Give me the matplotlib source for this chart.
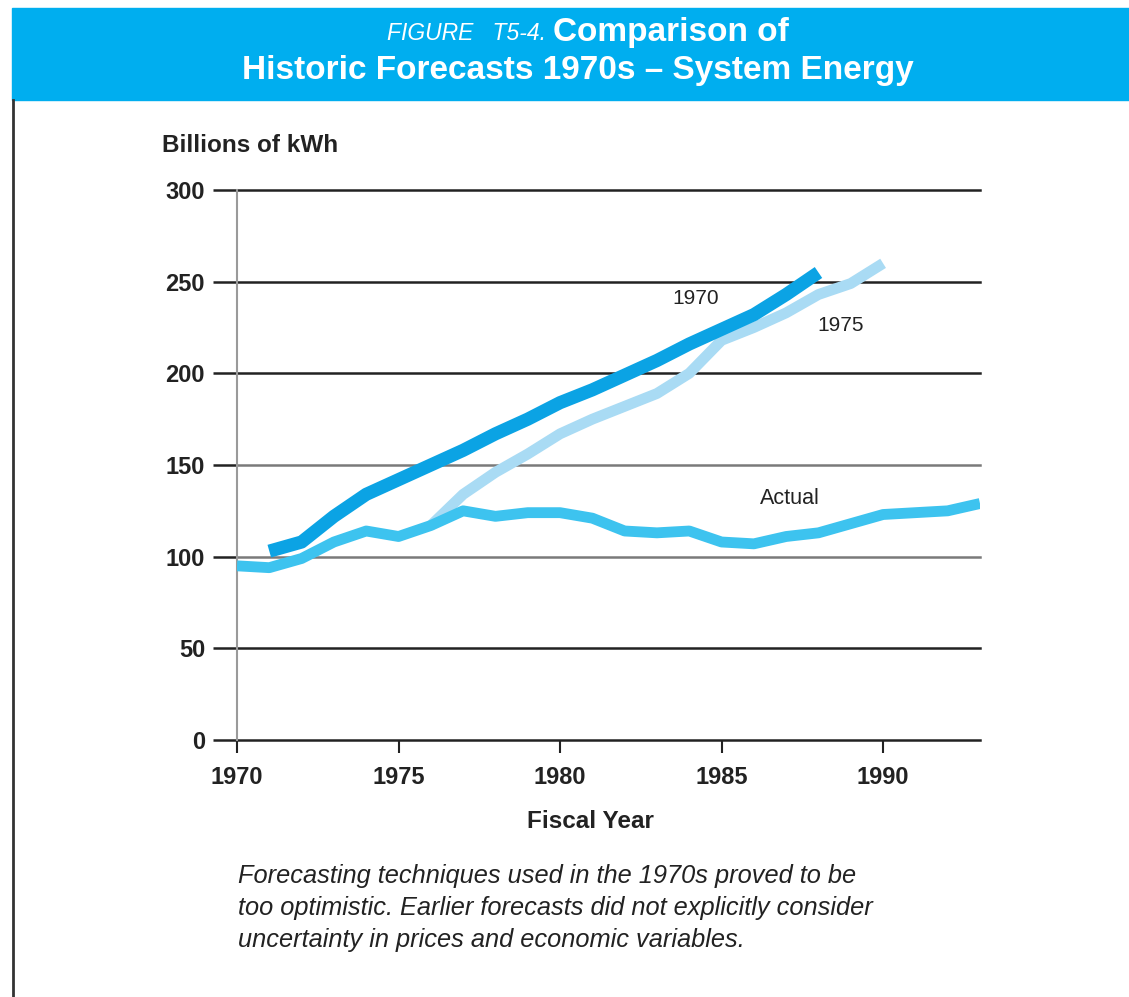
import matplotlib
matplotlib.use("Agg")
import matplotlib.pyplot as plt
from matplotlib.patches import Rectangle
from matplotlib.lines import Line2D

plt.rcParams['font.family'] = ['Liberation Sans', 'DejaVu Sans']

# ---- data (billions of kWh) ----
actual_years = [1970, 1971, 1972, 1973, 1974, 1975, 1976, 1977, 1978, 1979,
                1980, 1981, 1982, 1983, 1984, 1985, 1986, 1987, 1988, 1989,
                1990, 1991, 1992, 1993]
actual_vals = [95, 94, 99, 108, 114, 111, 117, 125, 122, 124,
               124, 121, 114, 113, 114, 108, 107, 111, 113, 118,
               123, 124, 125, 129]

fc1970_years = [1971, 1972, 1973, 1974, 1975, 1976, 1977, 1978, 1979, 1980,
                1981, 1982, 1983, 1984, 1985, 1986, 1987, 1988]
fc1970_vals = [103, 108, 122, 134, 142, 150, 158, 167, 175, 184,
               191, 199, 207, 216, 224, 232, 243, 255]

fc1975_years = [1976, 1977, 1978, 1979, 1980, 1981, 1982, 1983, 1984, 1985,
                1986, 1987, 1988, 1989, 1990]
fc1975_vals = [117, 134, 146, 156, 167, 175, 182, 189, 200, 218,
               225, 233, 243, 249, 260]

x_ticks = [1970, 1975, 1980, 1985, 1990]
y_ticks = [0, 50, 100, 150, 200, 250, 300]

HEADER_BLUE = '#00AEEF'
DARK_BLUE = '#0BA3E4'
MID_BLUE = '#3DC3EF'
LIGHT_BLUE = '#A9DBF4'
INK = '#222222'

W, H = 1129, 997
fig = plt.figure(figsize=(W / 100, H / 100), dpi=100)


def fx(px):
    return px / W


def fy(py):
    return 1 - py / H


# header band and left rule
fig.patches.append(Rectangle((fx(12), fy(100)), fx(W - 12), fy(8) - fy(100),
                             transform=fig.transFigure, color=HEADER_BLUE, zorder=0))
fig.lines.append(Line2D([fx(13), fx(13)], [0, fy(100)], transform=fig.transFigure,
                        color='#333333', lw=2))

fig.text(fx(546), fy(34), 'FIGURE   T5-4.', color='white', fontsize=16.5,
         style='italic', ha='right', va='center')
fig.text(fx(553), fy(33), 'Comparison of', color='white', fontsize=24,
         fontweight='bold', ha='left', va='center')
fig.text(fx(578), fy(70), 'Historic Forecasts 1970s \u2013 System Energy', color='white',
         fontsize=24, fontweight='bold', ha='center', va='center')

# plot area
ax = fig.add_axes([fx(237), fy(740), fx(980) - fx(237), fy(190) - fy(740)])
ax.set_xlim(1970, 1993)
ax.set_ylim(0, 300)

for v in y_ticks:
    c = '#7a7a7a' if v in (100, 150) else INK
    ax.axhline(v, color=c, lw=1.8, zorder=1, clip_on=False)

ax.plot(fc1975_years, fc1975_vals, color=LIGHT_BLUE, lw=7.8,
        solid_capstyle='butt', solid_joinstyle='round', zorder=2)
ax.plot(actual_years, actual_vals, color=MID_BLUE, lw=7.8,
        solid_capstyle='butt', solid_joinstyle='round', zorder=3)
ax.plot(fc1970_years, fc1970_vals, color=DARK_BLUE, lw=9.5,
        solid_capstyle='butt', solid_joinstyle='round', zorder=4)

ax.set_xticks(x_ticks)
ax.set_yticks(y_ticks)
ax.tick_params(axis='y', length=17, width=1.8, color=INK, pad=6,
               labelsize=17, labelcolor=INK)
ax.tick_params(axis='x', length=9, width=1.5, color=INK, pad=10,
               labelsize=17, labelcolor=INK)
for lab in ax.get_xticklabels() + ax.get_yticklabels():
    lab.set_fontweight('bold')
ax.xaxis.get_major_ticks()[0].tick1line.set_color('#999999')
for tk in ax.yaxis.get_major_ticks():
    tk.tick1line.set_color('#7a7a7a' if tk.get_loc() in (100, 150) else INK)

for side in ('top', 'right', 'bottom'):
    ax.spines[side].set_visible(False)
ax.spines['left'].set_color('#9a9a9a')
ax.spines['left'].set_linewidth(1.5)

ax.text(1984.2, 241, '1970', fontsize=15, color=INK, ha='center', va='center')
ax.text(1988.7, 226, '1975', fontsize=15, color=INK, ha='center', va='center')
ax.text(1987.1, 132, 'Actual', fontsize=15.5, color=INK, ha='center', va='center')

fig.text(fx(162), fy(145), 'Billions of kWh', fontsize=17.5, fontweight='bold',
         color=INK, ha='left', va='center')
fig.text(fx(590), fy(822), 'Fiscal Year', fontsize=17.5, fontweight='bold',
         color=INK, ha='center', va='center')

caption = ['Forecasting techniques used in the 1970s proved to be',
           'too optimistic. Earlier forecasts did not explicitly consider',
           'uncertainty in prices and economic variables.']
for i, line in enumerate(caption):
    fig.text(fx(238), fy(876 + 32 * i), line, fontsize=18.3, style='italic',
             color=INK, ha='left', va='center')

fig.savefig('out.png', dpi=100, facecolor='white')
